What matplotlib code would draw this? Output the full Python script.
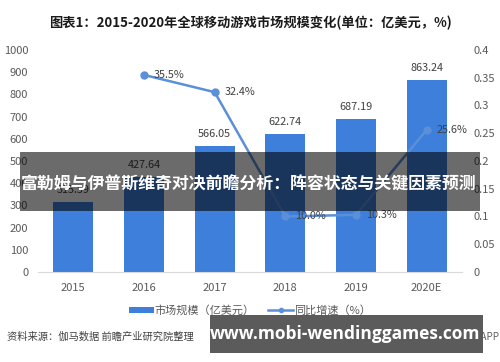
import matplotlib
matplotlib.use('Agg')
import matplotlib.pyplot as plt
from matplotlib.patches import Rectangle
from matplotlib.lines import Line2D
from matplotlib.patches import Patch
from matplotlib.ticker import FuncFormatter

plt.rcParams['font.family'] = ['Noto Sans CJK SC', 'DejaVu Sans']

# 数据
years = ['2015', '2016', '2017', '2018', '2019', '2020E']
market_size = [315.59, 427.64, 566.05, 622.74, 687.19, 863.24]
growth_years = ['2016', '2017', '2018', '2019', '2020E']
growth = [0.355, 0.324, 0.100, 0.103, 0.256]
growth_labels = ['35.5%', '32.4%', '10.0%', '10.3%', '25.6%']

bar_color = '#3d7fdb'
line_color = '#5b8fd8'
tick_color = '#595959'

fig = plt.figure(figsize=(5, 3.62), dpi=100)
ax = fig.add_axes([0.076, 0.2486, 0.848, 0.6134])

x = list(range(len(years)))
ax.bar(x, market_size, width=0.57, color=bar_color, zorder=2)
for i, v in enumerate(market_size):
    ax.annotate('%.2f' % v, (i, v), xytext=(0, 5), textcoords='offset points',
                ha='center', va='bottom', fontsize=7.8, color='#404040')

ax.set_xlim(-0.5, len(years) - 0.5)
ax.set_ylim(0, 1000)
ax.set_yticks(range(0, 1001, 100))
ax.set_xticks(x)
ax.set_xticklabels(years)
ax.tick_params(axis='both', length=0, labelsize=8, colors=tick_color)
ax.tick_params(axis='y', pad=7)
ax.tick_params(axis='x', pad=8)
for s in ['top', 'right', 'left']:
    ax.spines[s].set_visible(False)
ax.spines['bottom'].set_color('#d9d9d9')

ax2 = ax.twinx()
gx = [years.index(y) for y in growth_years]
ax2.plot(gx, growth, color=line_color, lw=1.8, marker='o', markersize=5, zorder=3)
for xi, g, lab in zip(gx, growth, growth_labels):
    ax2.annotate(lab, (xi, g), xytext=(7, 0), textcoords='offset points',
                 ha='left', va='center', fontsize=7.8, color='#404040')
ax2.set_ylim(0, 0.4)
ax2.set_yticks([i * 0.05 for i in range(9)])
ax2.yaxis.set_major_formatter(FuncFormatter(lambda v, p: '%g' % round(v, 2)))
ax2.tick_params(axis='y', length=0, labelsize=8, colors=tick_color, pad=8)
for s in ['top', 'right', 'left', 'bottom']:
    ax2.spines[s].set_visible(False)

# 图例
handles = [Patch(facecolor=bar_color, label='市场规模（亿美元）'),
           Line2D([0], [0], color=line_color, lw=1.8, marker='o', markersize=3,
                  label='同比增速（%）')]
fig.legend(handles=handles, loc='center', bbox_to_anchor=(0.5, 0.143), ncol=2,
           frameon=False, fontsize=8, labelcolor=tick_color, handlelength=2.2,
           handleheight=0.5, handletextpad=0.1, columnspacing=1.2)

# 标题
fig.text(0.5, 0.936, '图表1：2015-2020年全球移动游戏市场规模变化(单位：亿美元，%)',
         ha='center', va='center', fontsize=9.5, fontweight='bold', color='#1a1a1a')

# 来源
fig.text(0.014, 0.069, '资料来源：伽马数据 前瞻产业研究院整理', ha='left', va='center',
         fontsize=7.4, color='#404040')
fig.text(0.998, 0.069, '@前瞻经济学人APP', ha='right', va='center',
         fontsize=7.2, color='#606060', zorder=12)

# 中间横幅
fig.add_artist(Rectangle((0.04, 0.417), 0.92, 0.163, transform=fig.transFigure,
                         facecolor='black', alpha=0.58, edgecolor='none', zorder=10))
fig.text(0.498, 0.489, '富勒姆与伊普斯维奇对决前瞻分析：阵容状态与关键因素预测',
         ha='center', va='center', fontsize=12.2, fontweight='bold', color='white',
         zorder=11)

# 底部网址
fig.add_artist(Rectangle((0.42, 0.025), 0.546, 0.105, transform=fig.transFigure,
                         facecolor='#5b5b5b', edgecolor='none', zorder=13))
fig.text(0.69, 0.077, 'www.mobi-wendinggames.com', ha='center', va='center',
         fontsize=12.5, fontweight='bold', color='white', family=['Open Sans', 'DejaVu Sans'],
         zorder=14)

fig.savefig('out.png', dpi=100)
